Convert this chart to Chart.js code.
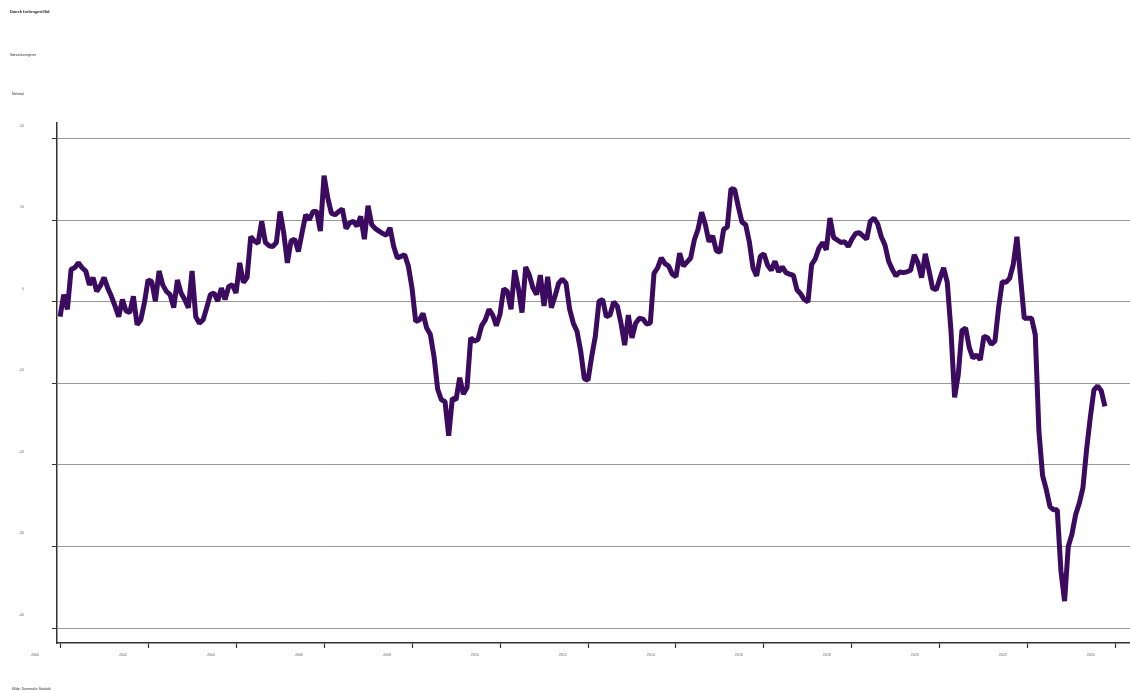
<!DOCTYPE html>
<html>
<head>
<meta charset="utf-8">
<title>Dansk forbrugertillid</title>
<script src="https://cdn.jsdelivr.net/npm/chart.js@4/dist/chart.umd.min.js"></script>
<style>
    body { margin: 0; background: #fff; font-family: "Liberation Sans", Arial, sans-serif; }
    #wrap { position: relative; width: 1130px; height: 691px; }
    canvas { position: absolute; left: 0; top: 0; }
    .txt { position: absolute; color: #333; white-space: nowrap; }
    #title { left: 10px; top: 9px; font-size: 4px; font-weight: bold; color: #222; }
    #subtitle { left: 10px; top: 53px; font-size: 3.5px; }
    #unit { left: 12px; top: 92px; font-size: 3.5px; }
    #source { left: 12px; top: 687px; font-size: 3.5px; }
</style>
</head>
<body>
<div id="wrap">
    <canvas id="chart" width="1130" height="691"></canvas>
    <div class="txt" id="title">Dansk forbrugertillid</div>
    <div class="txt" id="subtitle">Sæsonkorrigeret</div>
    <div class="txt" id="unit">Nettotal</div>
    <div class="txt" id="source">Kilde: Danmarks Statistik</div>
</div>
<script>
// monthly values, Jan 2000 onwards (one row per year)
const startYear = 2000;
const tillid = [
    -1.8, 0.9, -0.9, 4.0, 4.2, 4.8, 4.2, 3.8, 2.1, 3.0, 1.3, 2.0,
    3.0, 1.7, 0.7, -0.5, -1.8, 0.3, -1.1, -1.3, 0.7, -2.8, -2.2, -0.1,
    2.7, 2.5, 0.1, 3.8, 2.1, 1.3, 0.9, -0.7, 2.7, 1.1, 0.3, -0.7,
    3.8, -1.8, -2.6, -2.2, -0.7, 0.9, 1.1, 0.1, 1.7, 0.3, 1.9, 2.1,
    1.1, 4.8, 2.4, 3.0, 8.0, 7.5, 7.2, 9.9, 7.3, 6.9, 6.8, 7.3,
    11.1, 8.5, 4.8, 7.5, 7.7, 6.2, 8.5, 10.7, 10.1, 11.1, 11.1, 8.7,
    15.5, 12.8, 10.9, 10.7, 11.1, 11.4, 9.0, 9.7, 9.9, 9.3, 10.5, 7.7,
    11.8, 9.5, 9.0, 8.7, 8.4, 8.2, 9.1, 6.8, 5.4, 5.6, 5.8, 4.4,
    1.7, -2.4, -2.2, -1.4, -3.2, -4.0, -6.7, -10.7, -12.0, -12.2, -16.4, -11.8,
    -12.0, -9.3, -11.3, -10.5, -4.4, -4.8, -4.6, -2.9, -2.2, -0.9, -1.6, -2.9,
    -1.5, 1.6, 1.3, -0.9, 3.9, 1.7, -1.3, 4.3, 3.3, 1.7, 0.9, 3.3,
    -0.5, 3.1, -0.7, 0.7, 2.3, 2.8, 2.3, -0.9, -2.6, -3.6, -6.0, -9.4,
    -9.6, -6.7, -4.2, 0.1, 0.3, -1.8, -1.6, 0.0, -0.5, -2.6, -5.3, -1.6,
    -4.4, -2.6, -2.0, -2.1, -2.7, -2.6, 3.5, 4.2, 5.4, 4.7, 4.4, 3.4,
    3.1, 6.0, 4.4, 4.9, 5.4, 7.6, 8.9, 11.0, 9.5, 7.4, 8.1, 6.3,
    6.1, 8.9, 9.2, 13.9, 13.8, 11.7, 9.8, 9.5, 7.4, 4.2, 3.2, 5.6,
    5.9, 4.5, 3.9, 5.0, 3.7, 4.3, 3.6, 3.4, 3.3, 1.5, 1.0, 0.3,
    0.0, 4.6, 5.3, 6.6, 7.3, 6.4, 10.3, 7.9, 7.6, 7.3, 7.4, 6.8,
    7.7, 8.4, 8.5, 8.1, 7.7, 9.9, 10.3, 9.6, 8.0, 7.0, 5.0, 4.0,
    3.2, 3.7, 3.6, 3.7, 3.9, 5.8, 4.8, 3.0, 5.9, 3.9, 1.7, 1.5,
    2.9, 4.2, 2.4, -3.5, -11.7, -8.9, -3.5, -3.2, -5.6, -6.9, -6.5, -7.1,
    -4.2, -4.4, -5.2, -4.8, -0.7, 2.5, 2.4, 2.9, 4.6, 8.0, 2.9, -2.0,
    -2.0, -2.0, -4.0, -15.9, -21.3, -23.0, -25.1, -25.5, -25.5, -33.0, -36.7, -30.0,
    -28.5, -26.1, -24.7, -22.8, -18.1, -14.2, -10.8, -10.3, -10.9, -12.8
];
const yTicks = [20, 10, 0, -10, -20, -30, -40];
const xTickYears = [2000, 2002, 2004, 2006, 2008, 2010, 2012, 2014, 2016, 2018, 2020, 2022, 2024];

const points = tillid.map((v, i) => ({ x: startYear + i / 12, y: v }));

const ctx = document.getElementById('chart').getContext('2d');
new Chart(ctx, {
    type: 'line',
    data: {
        datasets: [{
            label: 'Forbrugertillid',
            data: points,
            borderColor: '#3a0b5e',
            borderWidth: 5,
            borderJoinStyle: 'bevel',
            pointRadius: 0,
            tension: 0,
            fill: false
        }]
    },
    options: {
        responsive: false,
        animation: false,
        layout: { padding: { top: 123, right: 0, bottom: 0, left: 0 } },
        plugins: {
            legend: { display: false },
            tooltip: { enabled: false }
        },
        scales: {
            x: {
                type: 'linear',
                min: 1999.93,
                max: 2024.32,
                afterBuildTicks: (scale) => {
                    scale.ticks = xTickYears.map(v => ({ value: v }));
                },
                afterFit: (scale) => { scale.height = 48; },
                grid: {
                    drawOnChartArea: false,
                    drawTicks: true,
                    tickLength: 5,
                    tickColor: '#333',
                    tickWidth: 1.2
                },
                border: { color: '#333', width: 1.5 },
                ticks: {
                    labelOffset: -25,
                    padding: 5,
                    maxRotation: 0,
                    autoSkip: false,
                    color: '#666',
                    font: { size: 3.5, family: 'Liberation Sans' },
                    callback: (v) => String(v)
                }
            },
            y: {
                min: -41.84,
                max: 21.96,
                afterBuildTicks: (scale) => {
                    scale.ticks = yTicks.map(v => ({ value: v }));
                },
                afterFit: (scale) => { scale.width = 57; },
                grid: {
                    color: '#999',
                    lineWidth: 1,
                    drawTicks: true,
                    tickLength: 5,
                    tickColor: '#333'
                },
                border: { color: '#333', width: 1.5 },
                ticks: {
                    labelOffset: -13,
                    padding: 28,
                    color: '#666',
                    font: { size: 3.5, family: 'Liberation Sans' },
                    callback: (v) => String(v)
                }
            }
        }
    }
});
</script>
</body>
</html>
